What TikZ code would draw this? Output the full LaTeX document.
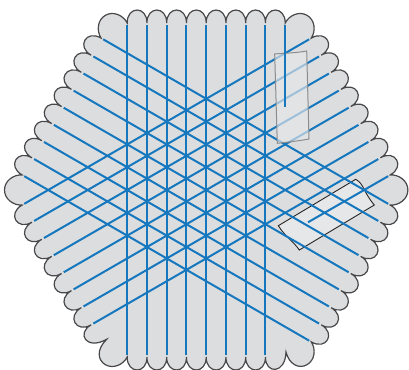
\documentclass[tikz,border=0pt]{standalone}
\usepackage{tikz}
\definecolor{lobegray}{HTML}{DCDDDF}
\definecolor{lobeedge}{HTML}{48484A}
\definecolor{wireblue}{HTML}{1577BD}
\definecolor{patchgray}{HTML}{E6E7E9}
\tikzset{
lobe/.style={draw=lobeedge, fill=lobegray, line width=1.2pt},
wire/.style={draw=wireblue, line width=2pt},
solidpatch/.style={draw=black!85, fill=patchgray, line width=0.9pt},
clearpatch/.style={draw=black!45, line width=1pt, fill=patchgray, fill opacity=0.65}
}
\begin{document}
\begin{tikzpicture}[x=1pt, y=1pt]
\clip (-206.2,-179) rectangle (202.8,190);
% ends of the wires and cusps of the lobes, side by side round the hexagon
\foreach \s in {0,...,5}
{\foreach \k in {1,...,9}
{\coordinate (e\s\k) at ([rotate=-60*\s]\k*19.75-98.75,164.5);
\coordinate (c\s\k) at ([rotate=-60*\s]\k*19.75-98.75,167);
\coordinate (p\s\k) at ([rotate=-60*\s]\k*19.75-98.9,184.3);
\coordinate (q\s\k) at ([rotate=-60*\s]\k*19.75-78.85,184.3);}
\coordinate (u\s) at ([rotate=-60*\s-30]-15.5,193);
\coordinate (v\s) at ([rotate=-60*\s-30]-9,201.7);
\coordinate (t\s) at ([rotate=-60*\s-30]0,201.7);
\coordinate (w\s) at ([rotate=-60*\s-30]9,201.7);
\coordinate (z\s) at ([rotate=-60*\s-30]15.5,193);}
% the two notches at the bottom
\coordinate (c31) at (79.8,-162);
\coordinate (c41) at (-99.5,-149.3);
\draw[lobe] (c01)
\foreach \s/\o in {0/1,1/2,2/3,3/4,4/5,5/0}
{\foreach \k [count=\n from 2] in {1,...,8}
{.. controls (p\s\k) and (q\s\k) .. (c\s\n)}
.. controls (u\s) and (v\s) .. (t\s) .. controls (w\s) and (z\s) .. (c\o1)}
-- cycle;
% lower patch
\coordinate (A) at (72.1,-35.7);
\coordinate (B) at (149.5,10.7);
\coordinate (C) at (168.1,-15);
\coordinate (D) at (93.1,-60);
\draw[solidpatch] (A) -- (B) .. controls (158,6) and (157,-2) .. (C) -- (D) .. controls (88,-52) and (80,-48) .. cycle;
% wires
\foreach \s/\o/\m in {0/3/8,1/4/8,2/5/9}
{\foreach \k [evaluate=\k as \n using int(10-\k)] in {1,...,\m}
{\draw[wire] (e\s\k) -- (e\o\n);}}
\coordinate (R) at (101.8,-32.3);
\draw[wire] (e19) -- (R);
% upper patch
\coordinate (E) at (68.5,136);
\coordinate (F) at (100.5,139);
\coordinate (G) at (102.8,51);
\coordinate (H) at (71.1,46.7);
\draw[clearpatch] (E) .. controls (80,137) and (90,137) .. (F) -- (G) .. controls (92,49) and (82,48) .. (H) -- cycle;
\coordinate (V) at (79,83);
\draw[wire] (e09) -- (V);
\end{tikzpicture}
\end{document}
